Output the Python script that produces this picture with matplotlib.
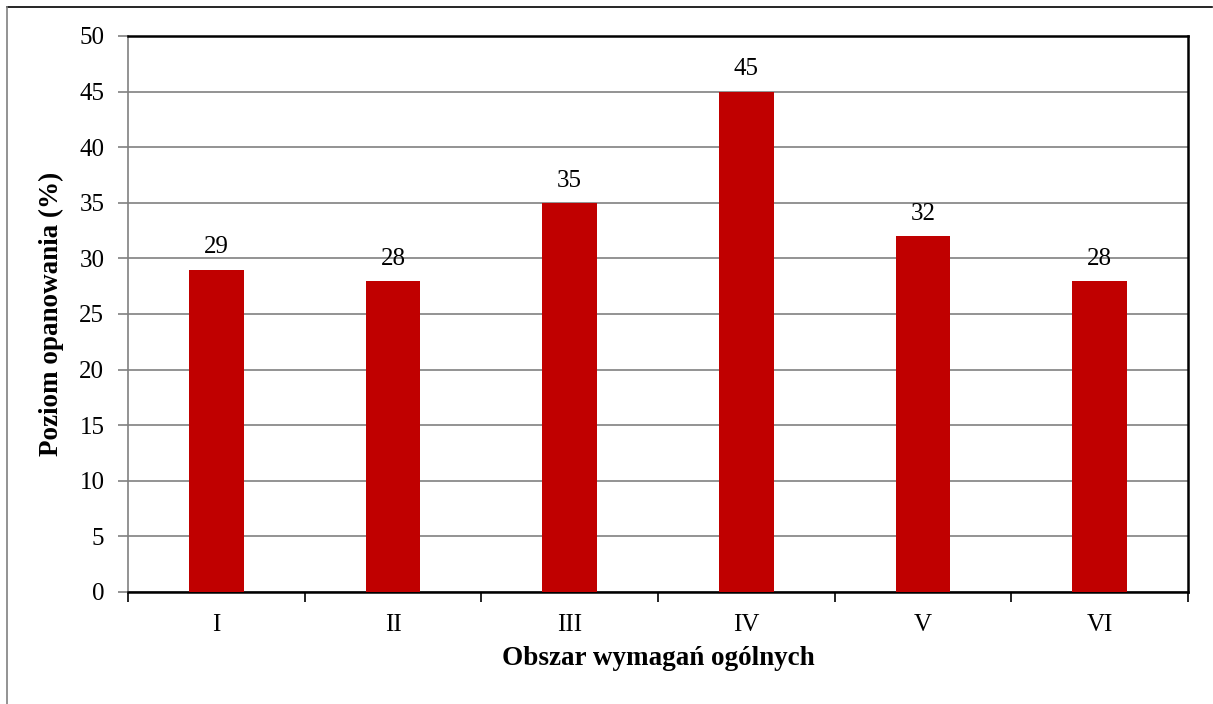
import numpy as np
import matplotlib.pyplot as plt
from matplotlib.lines import Line2D

# dane
obszary = ['I', 'II', 'III', 'IV', 'V', 'VI']
poziom = [29, 28, 35, 45, 32, 28]

plt.rcParams['font.family'] = ['Liberation Serif', 'DejaVu Serif']

fig = plt.figure(figsize=(12.13, 7.04), dpi=100)
ax = fig.add_axes([0.1055, 0.1591, 0.8739, 0.7898])

x = np.arange(len(obszary))
bars = ax.bar(x, poziom, width=0.31, color='#c00000', zorder=3)
for b, v in zip(bars, poziom):
    ax.annotate(str(v), (b.get_x() + b.get_width() / 2, v), xytext=(0, 8),
                textcoords='offset points', ha='center', va='bottom', fontsize=18)

ax.set_xlim(-0.5, len(obszary) - 0.5)
ax.set_ylim(0, 50)
ax.set_yticks(range(0, 51, 5))
ax.yaxis.grid(True, color='#808080', linewidth=1.2, zorder=0)
ax.tick_params(axis='y', labelsize=18, length=7, width=1.2, color='#808080', pad=10)

# etykiety osi x bez kresek, kreski na granicach kategorii
ax.set_xticks(x)
ax.set_xticklabels(obszary)
ax.tick_params(axis='x', labelsize=18, length=0, pad=16)
ax.set_xticks(np.arange(-0.5, len(obszary)), minor=True)
ax.tick_params(axis='x', which='minor', length=7, width=1.2, color='black')

for s in ['top', 'right', 'bottom']:
    ax.spines[s].set_color('black')
    ax.spines[s].set_linewidth(1.8)
ax.spines['left'].set_color('#808080')
ax.spines['left'].set_linewidth(1.2)

ax.set_xlabel('Obszar wymagań ogólnych', fontsize=19.5, fontweight='bold', labelpad=7)
ax.set_ylabel('Poziom opanowania (%)', fontsize=19.5, fontweight='bold', labelpad=11)

# ramka wykresu
fig.add_artist(Line2D([7 / 1213, 1212 / 1213], [1 - 7 / 704, 1 - 7 / 704],
                      transform=fig.transFigure, color='black', linewidth=1.2))
fig.add_artist(Line2D([7 / 1213, 7 / 1213], [1 - 7 / 704, 0],
                      transform=fig.transFigure, color='#808080', linewidth=1.2))

fig.savefig('out.png', dpi=100)
